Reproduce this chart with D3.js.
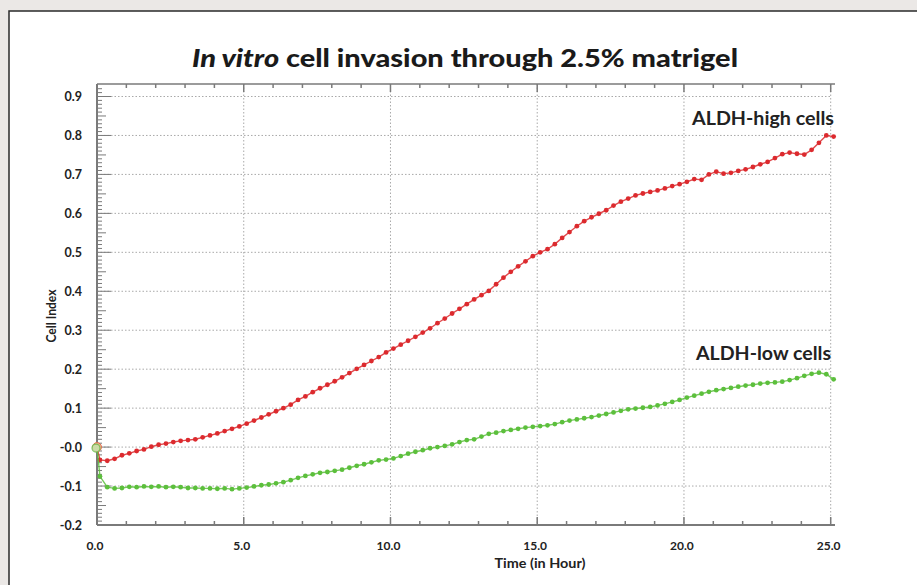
<!DOCTYPE html>
<html><head><meta charset="utf-8">
<script src="https://cdn.jsdelivr.net/npm/d3@7"></script>
<style>
html,body{margin:0;padding:0;background:#ebe8e6;}
svg{display:block;font-family:Lato,"Open Sans",sans-serif;}
</style></head>
<body>
<svg id="chart" width="917" height="585"></svg>
<script>
// ---- data ----
const startTime = 0;
const startValue = 0.0;
// sampling times (hours): 0.1, 0.35, ... 25.1
const times = d3.range(0, 101).map(i => +(0.1 + i * 0.25).toFixed(2));
const highCells = [
  -0.033,-0.035,-0.030,-0.021,
  -0.016,-0.010,-0.006,0.001,
  0.006,0.009,0.013,0.016,
  0.018,0.020,0.025,0.030,
  0.035,0.041,0.047,0.053,
  0.060,0.068,0.076,0.084,
  0.092,0.100,0.109,0.121,
  0.130,0.141,0.151,0.160,
  0.169,0.179,0.190,0.201,
  0.211,0.221,0.231,0.243,
  0.253,0.263,0.273,0.283,
  0.294,0.305,0.318,0.330,
  0.343,0.355,0.367,0.379,
  0.390,0.401,0.418,0.435,
  0.450,0.464,0.477,0.490,
  0.500,0.508,0.521,0.537,
  0.552,0.567,0.580,0.590,
  0.599,0.608,0.620,0.630,
  0.638,0.646,0.651,0.655,
  0.659,0.664,0.670,0.675,
  0.681,0.688,0.686,0.700,
  0.707,0.702,0.704,0.709,
  0.713,0.719,0.726,0.732,
  0.742,0.752,0.756,0.753,
  0.751,0.763,0.781,0.800,
  0.797
];
const lowCells = [
  -0.075,-0.103,-0.106,-0.105,
  -0.102,-0.103,-0.101,-0.102,
  -0.101,-0.103,-0.102,-0.103,
  -0.105,-0.105,-0.106,-0.106,
  -0.107,-0.106,-0.108,-0.106,
  -0.104,-0.101,-0.098,-0.096,
  -0.093,-0.090,-0.085,-0.079,
  -0.074,-0.070,-0.066,-0.064,
  -0.061,-0.058,-0.053,-0.048,
  -0.044,-0.039,-0.034,-0.032,
  -0.029,-0.023,-0.017,-0.012,
  -0.008,-0.003,0.000,0.003,
  0.007,0.013,0.018,0.020,
  0.027,0.034,0.037,0.041,
  0.044,0.047,0.050,0.052,
  0.054,0.056,0.059,0.064,
  0.068,0.071,0.074,0.077,
  0.081,0.085,0.089,0.093,
  0.097,0.099,0.101,0.103,
  0.107,0.111,0.116,0.121,
  0.127,0.132,0.137,0.142,
  0.146,0.149,0.152,0.155,
  0.158,0.160,0.163,0.165,
  0.166,0.168,0.172,0.177,
  0.183,0.188,0.191,0.187,
  0.174
];
const xTicks = [0, 5, 10, 15, 20, 25];
const yTicks = [-0.2, -0.1, 0, 0.1, 0.2, 0.3, 0.4, 0.5, 0.6, 0.7, 0.8, 0.9];
const yTickLabels = ["-0.2","-0.1","-0.0","0.1","0.2","0.3","0.4","0.5","0.6","0.7","0.8","0.9"];
const seriesNames = ["ALDH-high cells", "ALDH-low cells"];

// ---- layout ----
const svg = d3.select("#chart");
svg.append("rect").attr("x", 9).attr("y", 11).attr("width", 920).attr("height", 590)
  .attr("fill", "#fff").attr("stroke", "#2a2a2a").attr("stroke-width", 1.5);

const x = d3.scaleLinear().domain([0, 25]).range([97, 830.7]);
const y = d3.scaleLinear().domain([-0.2, 0.9]).range([525, 96.5]);
const xRight = 835, yTop = 84;

// grid
const grid = svg.append("g").attr("stroke", "#a9a9a9").attr("stroke-width", 1)
  .attr("stroke-dasharray", "1.5,2");
grid.selectAll("line.h").data(yTicks.filter(v => v > -0.2)).join("line")
  .attr("x1", x(0)).attr("x2", x(25)).attr("y1", d => y(d)).attr("y2", d => y(d));
grid.selectAll("line.v").data(xTicks.filter(v => v > 0)).join("line")
  .attr("x1", d => x(d)).attr("x2", d => x(d)).attr("y1", yTop).attr("y2", y(-0.2));

// frame lines
const axc = "#7a7a7a";
svg.append("line").attr("x1", x(0)).attr("x2", xRight).attr("y1", y(-0.2)).attr("y2", y(-0.2))
  .attr("stroke", axc).attr("stroke-width", 2);
svg.append("line").attr("x1", x(0)).attr("x2", xRight).attr("y1", yTop).attr("y2", yTop)
  .attr("stroke", axc).attr("stroke-width", 1.5);
svg.append("line").attr("x1", x(0)).attr("x2", x(0)).attr("y1", yTop).attr("y2", y(-0.2))
  .attr("stroke", axc).attr("stroke-width", 2);

// x ticks (minor every hour)
const xMinor = d3.range(0, 26);
svg.append("g").selectAll("line").data(xMinor).join("line")
  .attr("x1", d => x(d)).attr("x2", d => x(d))
  .attr("y1", y(-0.2)).attr("y2", d => y(-0.2) - (d % 5 === 0 ? 8 : 4))
  .attr("stroke", axc).attr("stroke-width", 1.5);
svg.append("g").selectAll("line").data(xMinor).join("line")
  .attr("x1", d => x(d)).attr("x2", d => x(d))
  .attr("y1", yTop).attr("y2", d => yTop + (d % 5 === 0 ? 8 : 4))
  .attr("stroke", axc).attr("stroke-width", 1.5);

// y ticks (minor every 0.01)
const yMinor = d3.range(-20, 93).map(i => i / 100);
svg.append("g").selectAll("line").data(yMinor).join("line")
  .attr("x1", x(0)).attr("x2", (d, i) => { const k = i - 20; return x(0) + (k % 10 === 0 ? 14 : (Math.abs(k) % 5 === 0 ? 9 : 5)); })
  .attr("y1", d => y(d)).attr("y2", d => y(d))
  .attr("stroke", axc).attr("stroke-width", 1);

// tick labels
svg.append("g").selectAll("text").data(xTicks).join("text")
  .attr("x", d => x(d) - 2).attr("y", 550).attr("text-anchor", "middle")
  .attr("font-size", 12).attr("font-weight", 700).attr("fill", "#222")
  .text(d => d.toFixed(1));
svg.append("g").selectAll("text").data(yTicks).join("text")
  .attr("x", 82).attr("y", d => y(d) + 4.5).attr("text-anchor", "end")
  .attr("font-size", 12.5).attr("font-weight", 700).attr("fill", "#222")
  .text((d, i) => yTickLabels[i]);

// axis titles
svg.append("text").attr("x", 540).attr("y", 568).attr("text-anchor", "middle")
  .attr("font-size", 13).attr("font-weight", 700).attr("fill", "#222")
  .attr("textLength", 91).attr("lengthAdjust", "spacingAndGlyphs").text("Time (in Hour)");
svg.append("text").attr("transform", "translate(56,316) rotate(-90)").attr("text-anchor", "middle")
  .attr("font-size", 13).attr("font-weight", 700).attr("fill", "#222")
  .attr("textLength", 53).attr("lengthAdjust", "spacingAndGlyphs").text("Cell Index");

// title
const title = svg.append("text").attr("x", 192).attr("y", 67)
  .attr("font-size", 25).attr("font-weight", 900).attr("fill", "#1a1a1a")
  .attr("textLength", 546).attr("lengthAdjust", "spacingAndGlyphs");
title.append("tspan").attr("font-style", "italic").text("In vitro");
title.append("tspan").text(" cell invasion through 2.5% matrigel");

// series
const line = d3.line().x(d => x(d[0])).y(d => y(d[1]));
const series = [
  { name: seriesNames[0], color: "#dc2a2e", vals: highCells },
  { name: seriesNames[1], color: "#5cbf3c", vals: lowCells }
];
series.forEach(s => {
  const pts = [[startTime, startValue]].concat(times.map((t, i) => [t, s.vals[i]]));
  svg.append("path").datum(pts).attr("d", line).attr("fill", "none")
    .attr("stroke", s.color).attr("stroke-width", 1.4).attr("opacity", 0.85);
  svg.append("g").selectAll("circle").data(pts.slice(1)).join("circle")
    .attr("cx", d => x(d[0])).attr("cy", d => y(d[1])).attr("r", 2.4).attr("fill", s.color);
});
// start markers
svg.append("circle").attr("cx", x(startTime)).attr("cy", y(startValue)).attr("r", 4.5)
  .attr("fill", "#f4b090").attr("stroke", "#e07050").attr("stroke-width", 1);
svg.append("circle").attr("cx", x(startTime) - 1).attr("cy", y(startValue) + 1).attr("r", 4)
  .attr("fill", "#c4e4ac").attr("stroke", "#6cc050").attr("stroke-width", 1.2).attr("opacity", 0.85);

// series labels
svg.append("text").attr("x", 834).attr("y", 125).attr("text-anchor", "end")
  .attr("font-size", 18.5).attr("font-weight", 700).attr("fill", "#222")
  .attr("textLength", 142).attr("lengthAdjust", "spacingAndGlyphs").text(seriesNames[0]);
svg.append("text").attr("x", 831).attr("y", 360).attr("text-anchor", "end")
  .attr("font-size", 18.5).attr("font-weight", 700).attr("fill", "#222")
  .attr("textLength", 135).attr("lengthAdjust", "spacingAndGlyphs").text(seriesNames[1]);
</script>
</body></html>
